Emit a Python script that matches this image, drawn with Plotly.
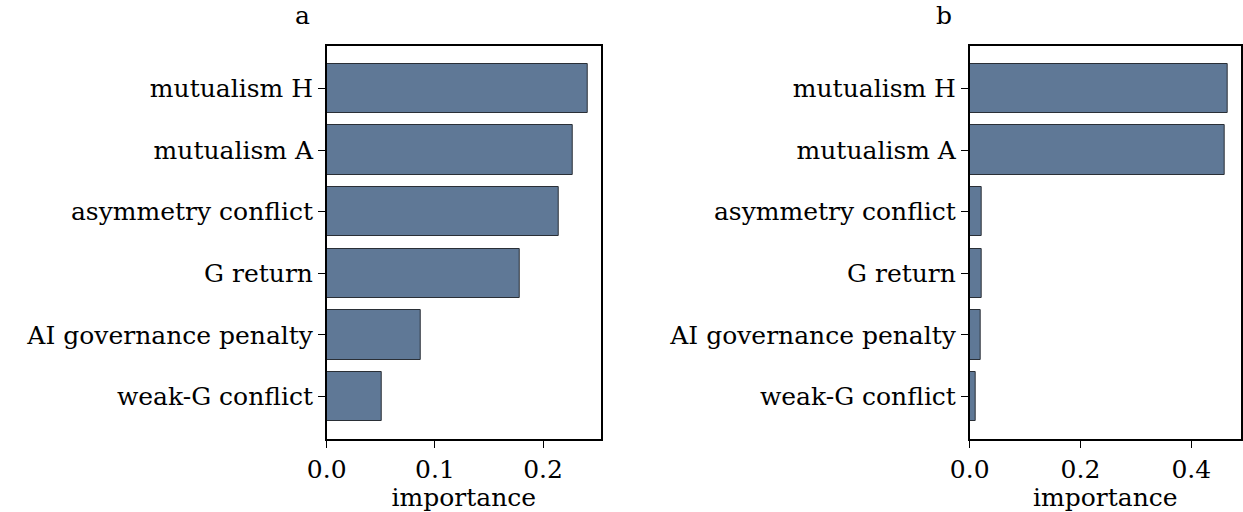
import plotly.graph_objects as go

categories = ["mutualism H", "mutualism A", "asymmetry conflict", "G return",
              "AI governance penalty", "weak-G conflict"]
importance_a = [0.2415, 0.227, 0.2148, 0.1784, 0.0865, 0.0505]
importance_b = [0.4664, 0.461, 0.0224, 0.0217, 0.0203, 0.0115]
panel_titles = ["a", "b"]
ticks_a = [0.0, 0.1, 0.2]
ticks_b = [0.0, 0.2, 0.4]

W, H = 1243, 512
FONT = "DejaVu Serif"
FS = 25
BAR_FILL = "#5f7896"
BAR_LINE = "#2a2f36"

fig = go.Figure()

for i, (vals, ticks) in enumerate([(importance_a, ticks_a), (importance_b, ticks_b)]):
    xa = "x" if i == 0 else "x2"
    ya = "y" if i == 0 else "y2"
    fig.add_trace(go.Bar(
        x=vals, y=list(range(len(categories))), orientation="h",
        xaxis=xa, yaxis=ya, width=0.8,
        marker=dict(color=BAR_FILL, line=dict(color=BAR_LINE, width=1)),
        showlegend=False,
    ))

n = len(categories)
ymin, ymax = -0.4 - 0.29, (n - 1) + 0.4 + 0.29

dom_a = [312 / W, 591 / W]
dom_b = [966 / W, 1242 / W]
dom_y = [1 - 439 / H, 1 - 46 / H]

common_x = dict(showline=True, linecolor="black", linewidth=1.5, mirror=True,
                ticks="outside", ticklen=7, tickwidth=1.2, tickcolor="black",
                showgrid=False, zeroline=False,
                tickfont=dict(family=FONT, size=FS, color="black"),
                title=dict(text="importance", font=dict(family=FONT, size=FS, color="black"), standoff=2))
common_y = dict(showline=True, linecolor="black", linewidth=1.5, mirror=True,
                ticks="outside", ticklen=7, tickwidth=1.2, tickcolor="black",
                showgrid=False, zeroline=False,
                tickmode="array", tickvals=list(range(n)), ticktext=categories,
                autorange=False, range=[ymax, ymin],
                tickfont=dict(family=FONT, size=FS, color="black"))

fig.update_layout(
    width=W, height=H,
    margin=dict(l=0, r=0, t=0, b=0),
    paper_bgcolor="white", plot_bgcolor="white",
    bargap=0,
    xaxis=dict(domain=dom_a, range=[0, max(importance_a) * 1.05], tickmode="array",
               tickvals=ticks_a, ticktext=[f"{t:.1f}" for t in ticks_a], anchor="y", **common_x),
    yaxis=dict(domain=dom_y, anchor="x", **common_y),
    xaxis2=dict(domain=dom_b, range=[0, max(importance_b) * 1.05], tickmode="array",
                tickvals=ticks_b, ticktext=[f"{t:.1f}" for t in ticks_b], anchor="y2", **common_x),
    yaxis2=dict(domain=dom_y, anchor="x2", **common_y),
    annotations=[
        dict(text=panel_titles[0], x=287 / W, y=1 - 15 / H, xref="paper", yref="paper",
             showarrow=False, xanchor="center", yanchor="middle",
             font=dict(family=FONT, size=FS, color="black")),
        dict(text=panel_titles[1], x=940 / W, y=1 - 15 / H, xref="paper", yref="paper",
             showarrow=False, xanchor="center", yanchor="middle",
             font=dict(family=FONT, size=FS, color="black")),
    ],
)

fig.write_html("out.html", config={"displayModeBar": False},
               post_script="document.body.style.margin='0';document.body.style.overflow='hidden';")
